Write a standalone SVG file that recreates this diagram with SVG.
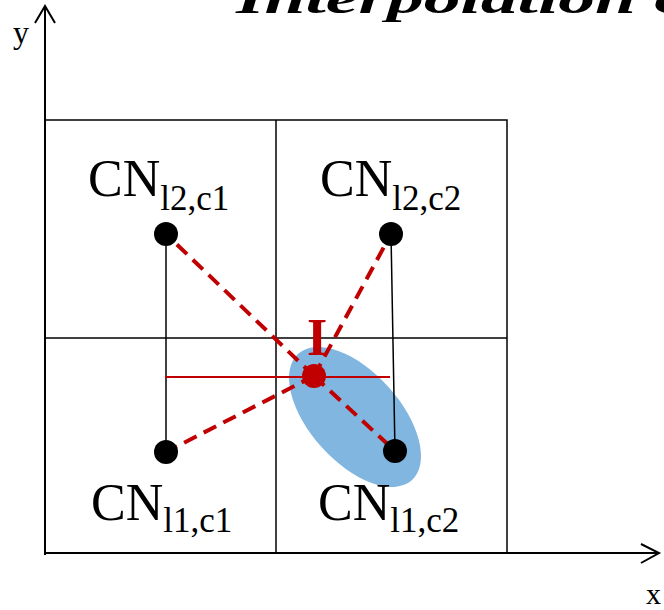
<svg xmlns="http://www.w3.org/2000/svg" width="664" height="610" viewBox="0 0 664 610">
<style>
.lbl{font-family:"Liberation Serif","Times New Roman",serif;fill:#000}
.axis{stroke:#000;stroke-width:2;fill:none}
.grid{stroke:#000;stroke-width:1.5;fill:none}
.link{stroke:#000;stroke-width:1.5}
.dash{stroke:#C00000;stroke-width:4;stroke-dasharray:14 8;fill:none}
.node{fill:#000}
</style>
<rect width="664" height="610" fill="#fff"/>
<text class="lbl" x="236" y="13" font-size="44" font-weight="bold" font-style="italic" textLength="455" lengthAdjust="spacingAndGlyphs">Interpolation o</text>
<g id="axes">
<path class="axis" d="M45,555 V6 M35,23 L45,6 L55,23"/>
<path class="axis" d="M45,553 H659 M641,544 L659,553 L641,563"/>
<text class="lbl" x="13" y="43" font-size="32">y</text>
<text class="lbl" x="646" y="604" font-size="30">x</text>
</g>
<g id="grid">
<rect class="grid" x="45" y="120" width="462" height="433"/>
<line class="grid" x1="276" y1="120" x2="276" y2="553"/>
<line class="grid" x1="45" y1="338" x2="507" y2="338"/>
</g>
<ellipse id="region" cx="355" cy="417" rx="85" ry="45" transform="rotate(48 355 417)" fill="#80B6DF"/>
<g id="connectors">
<line class="link" x1="166" y1="234" x2="166" y2="452"/>
<line class="link" x1="391" y1="234" x2="395" y2="451"/>
<line x1="165" y1="377" x2="390" y2="377" stroke="#C00000" stroke-width="2"/>
<line class="dash" x1="314" y1="376" x2="166" y2="234"/>
<line class="dash" x1="314" y1="376" x2="391" y2="234"/>
<line class="dash" x1="314" y1="376" x2="166" y2="452"/>
<line class="dash" x1="314" y1="376" x2="395" y2="451"/>
</g>
<g id="node-l2c1">
<circle class="node" cx="166" cy="234" r="12"/>
<text class="lbl" x="88" y="196" font-size="52">CN<tspan font-size="35" dy="14">l2,c1</tspan></text>
</g>
<g id="node-l2c2">
<circle class="node" cx="391" cy="234" r="12"/>
<text class="lbl" x="320" y="196" font-size="52">CN<tspan font-size="35" dy="14">l2,c2</tspan></text>
</g>
<g id="node-l1c1">
<circle class="node" cx="166" cy="452" r="12"/>
<text class="lbl" x="91" y="520" font-size="52">CN<tspan font-size="35" dy="12">l1,c1</tspan></text>
</g>
<g id="node-l1c2">
<circle class="node" cx="395" cy="451" r="12"/>
<text class="lbl" x="318" y="520" font-size="52">CN<tspan font-size="35" dy="12">l1,c2</tspan></text>
</g>
<g id="node-I">
<circle cx="314" cy="376" r="12" fill="#C00000"/>
<text x="317" y="355" font-size="52" font-weight="bold" text-anchor="middle" fill="#C00000" font-family="Liberation Serif, serif">I</text>
</g>
</svg>
